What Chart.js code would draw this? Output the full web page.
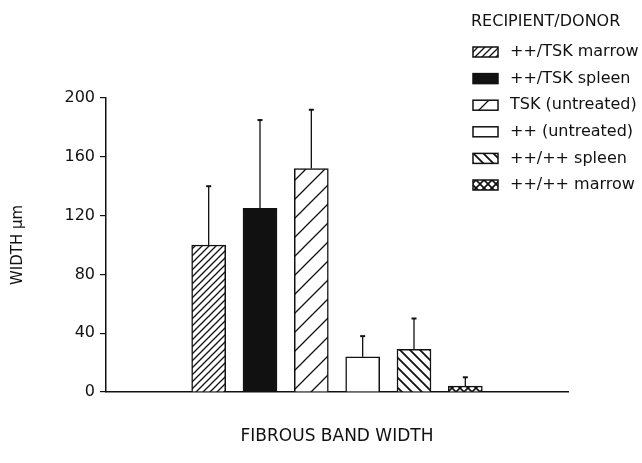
<!DOCTYPE html>
<html>
<head>
<meta charset="utf-8">
<script src="https://cdn.jsdelivr.net/npm/chart.js@4/dist/chart.umd.min.js"></script>
<style>
html,body{margin:0;padding:0;background:#fff;}
#wrap{width:642px;height:463px;position:relative;}
</style>
</head>
<body>
<div id="wrap"><canvas id="c" width="642" height="463"></canvas></div>
<script>
// ---- data ----
const groups = ['++/TSK marrow', '++/TSK spleen', 'TSK (untreated)', '++ (untreated)', '++/++ spleen', '++/++ marrow'];
const means = [100, 125, 152, 24, 29, 4];
const sems = [40, 60, 40, 14, 21, 6];
const slots = ['', '', '++/TSK marrow', '++/TSK spleen', 'TSK (untreated)', '++ (untreated)', '++/++ spleen', '++/++ marrow', '', ''];
const yTicks = [0, 40, 80, 120, 160, 200];
const legendTitle = 'RECIPIENT/DONOR';
const xTitle = 'FIBROUS BAND WIDTH';
const yTitle = 'WIDTH \u03BCm';

// ---- patterns ----
const INK = '#111';
function makeTile(s, draw) {
  const cv = document.createElement('canvas');
  cv.width = s; cv.height = s;
  const g = cv.getContext('2d');
  g.fillStyle = '#fff'; g.fillRect(0, 0, s, s);
  g.strokeStyle = INK; g.lineWidth = 1.3; g.lineCap = 'square';
  draw(g, s);
  return g.createPattern(cv, 'repeat');
}
function fwd(g, s) { // "/"
  g.beginPath();
  g.moveTo(0, s); g.lineTo(s, 0);
  g.moveTo(-1, 1); g.lineTo(1, -1);
  g.moveTo(s - 1, s + 1); g.lineTo(s + 1, s - 1);
  g.stroke();
}
function back(g, s) { // "\"
  g.beginPath();
  g.moveTo(0, 0); g.lineTo(s, s);
  g.moveTo(-1, s - 1); g.lineTo(1, s + 1);
  g.moveTo(s - 1, -1); g.lineTo(s + 1, 1);
  g.stroke();
}
const fills = [
  makeTile(7, fwd),
  INK,
  makeTile(19, fwd),
  '#fff',
  makeTile(10, (g, s) => { g.lineWidth = 1.8; back(g, s); }),
  makeTile(8, (g, s) => { g.lineWidth = 1.6; fwd(g, s); back(g, s); })
];

const datasets = groups.map((name, i) => {
  const d = slots.map(() => null);
  d[slots.indexOf(name)] = means[i];
  return {
    label: name,
    data: d,
    backgroundColor: fills[i],
    borderColor: INK,
    borderWidth: 1.5,
    barThickness: 34,
    errs: sems[i]
  };
});

const errorBars = {
  id: 'errorBars',
  afterDatasetsDraw(chart) {
    const ctx = chart.ctx, y = chart.scales.y;
    ctx.save();
    ctx.strokeStyle = INK;
    chart.data.datasets.forEach((ds, di) => {
      const meta = chart.getDatasetMeta(di);
      ds.data.forEach((v, i) => {
        if (v === null) return;
        const x = meta.data[i].x;
        const y0 = y.getPixelForValue(v);
        const y1 = y.getPixelForValue(v + ds.errs);
        ctx.lineWidth = 1.3;
        ctx.beginPath(); ctx.moveTo(x, y0); ctx.lineTo(x, y1); ctx.stroke();
        ctx.lineWidth = 2;
        ctx.beginPath(); ctx.moveTo(x - 2.5, y1); ctx.lineTo(x + 2.5, y1); ctx.stroke();
      });
    });
    ctx.restore();
  }
};

const customLegend = {
  id: 'customLegend',
  afterDraw(chart) {
    const ctx = chart.ctx;
    ctx.save();
    ctx.font = '16px "DejaVu Sans"';
    ctx.fillStyle = INK;
    ctx.textBaseline = 'middle';
    ctx.textAlign = 'left';
    ctx.fillText(legendTitle, 471, 22);
    chart.data.datasets.forEach((ds, i) => {
      const cy = 52 + i * 26.6;
      ctx.fillStyle = ds.backgroundColor;
      ctx.fillRect(473, cy - 5, 25, 10);
      ctx.strokeStyle = INK; ctx.lineWidth = 1.5;
      ctx.strokeRect(473, cy - 5, 25, 10);
      ctx.fillStyle = INK;
      ctx.fillText(ds.label, 510, cy);
    });
    ctx.restore();
  }
};

new Chart(document.getElementById('c'), {
  type: 'bar',
  data: { labels: slots, datasets },
  options: {
    responsive: false,
    animation: false,
    layout: { padding: { top: 98, right: 74, bottom: 0, left: 0 } },
    datasets: { bar: { grouped: false } },
    plugins: { legend: { display: false }, tooltip: { enabled: false }, title: { display: false } },
    scales: {
      x: {
        type: 'category',
        offset: false,
        grid: { display: false },
        border: { display: true, color: INK, width: 1.5 },
        ticks: { display: false },
        title: { display: true, text: xTitle, color: INK, font: { family: 'DejaVu Sans', size: 17 }, padding: { top: 0, bottom: 16 } },
        afterFit(s) { s.height = 71; }
      },
      y: {
        min: 0, max: 200,
        afterBuildTicks(s) { s.ticks = yTicks.map(v => ({ value: v })); },
        grid: { drawOnChartArea: false, drawTicks: true, tickLength: 6, color: INK, lineWidth: 1.2 },
        border: { display: true, color: INK, width: 1.5 },
        ticks: { color: INK, padding: 5, font: { family: 'DejaVu Sans', size: 16 } },
        title: { display: true, text: yTitle, color: INK, font: { family: 'DejaVu Sans', size: 15 }, padding: { top: 9, bottom: 0 } },
        afterFit(s) { s.width = 106; }
      }
    }
  },
  plugins: [errorBars, customLegend]
});
</script>
</body>
</html>
